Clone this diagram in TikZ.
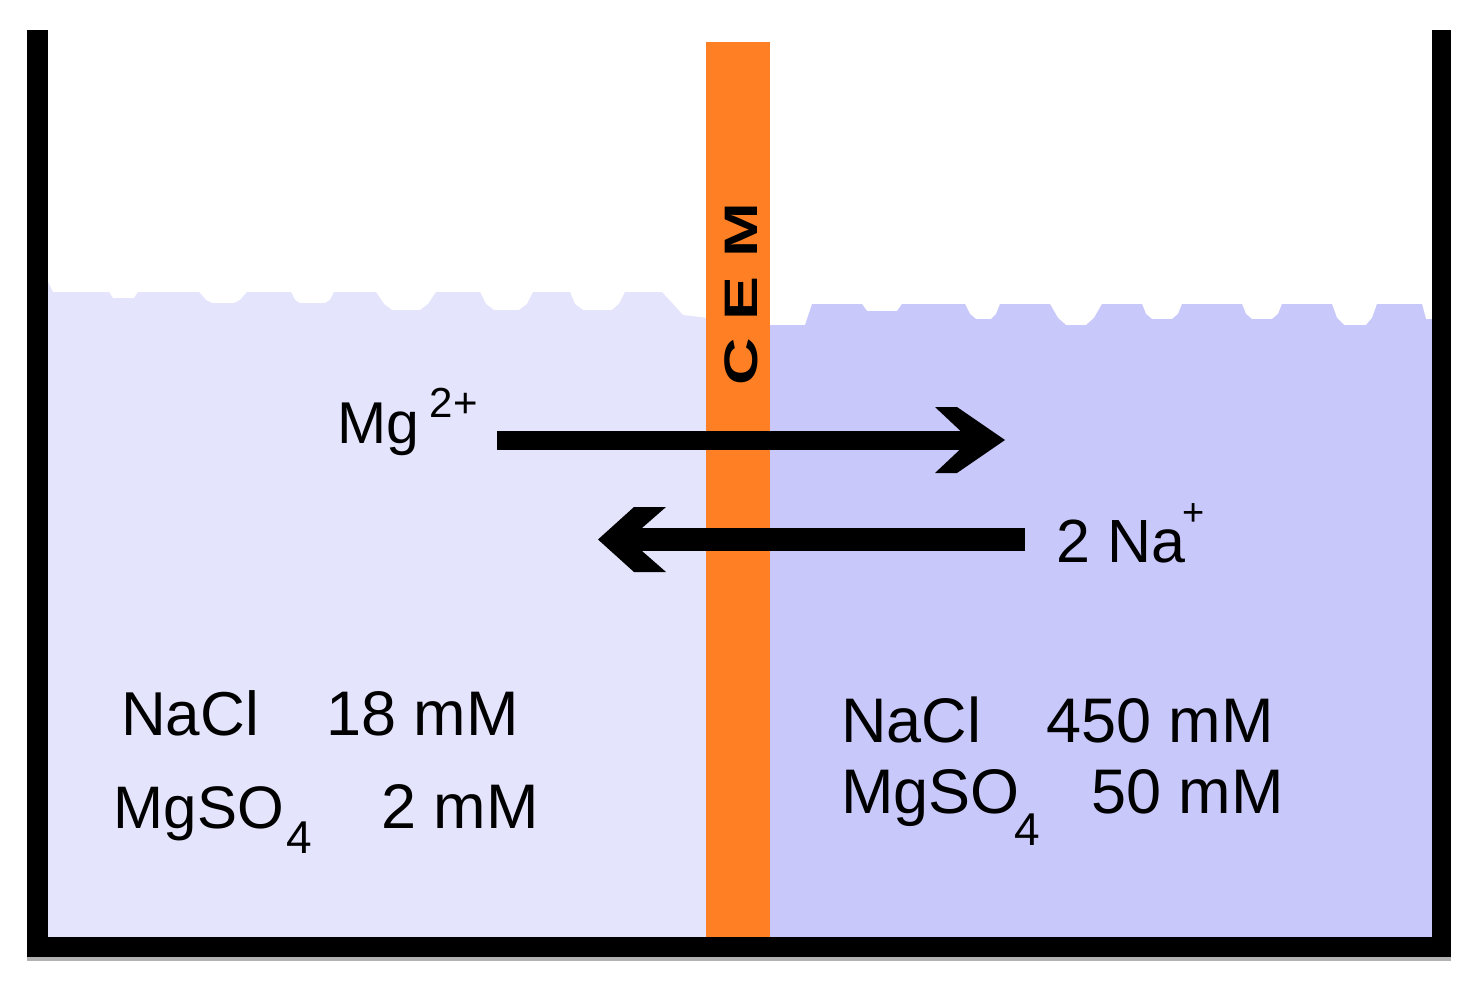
\documentclass[tikz,border=0pt]{standalone}
\usepackage{fontspec}
\setmainfont{Liberation Sans}
\definecolor{leftwater}{RGB}{228,228,252}
\definecolor{rightwater}{RGB}{200,200,250}
\definecolor{membrane}{RGB}{255,128,36}
\newcommand\myfs[1]{\fontsize{#1}{#1}\selectfont}
\begin{document}
\begin{tikzpicture}[x=1pt,y=-1pt,
  txt/.style={anchor=base west, inner sep=0pt, text=black},
  wall/.style={fill=black},
  shaft/.style={draw=black, line width=#1}]
\useasboundingbox (0,0) rectangle (1483,982);
\fill[white] (0,0) rectangle (1483,982);
% water left
\fill[leftwater] (48,282) -- (53,292) -- (109,292) -- (113,298) -- (134,298) -- (138,292) -- (199,292) -- (206,300) -- (212,303) -- (234,303) -- (240,300) -- (247,292) -- (291,292) -- (295,300) -- (300,303) -- (325,303) -- (330,300) -- (334,292) -- (376,292) -- (384,304) -- (392,310) -- (420,310) -- (428,304) -- (436,292) -- (480,292) -- (486,304) -- (494,310) -- (519,310) -- (527,304) -- (533,292) -- (570,292) -- (575,304) -- (583,310) -- (612,310) -- (619,304) -- (625,292) -- (662,292) -- (683,315) -- (708,318) -- (708,945) -- (48,945) -- cycle;
% water right
\fill[rightwater] (768,325) -- (805,325) -- (812,304) -- (862,304) -- (867,311) -- (897,311) -- (902,304) -- (965,304) -- (970,314) -- (976,319) -- (991,319) -- (996,314) -- (1000,304) -- (1050,304) -- (1058,318) -- (1066,325) -- (1086,325) -- (1094,318) -- (1102,304) -- (1142,304) -- (1146,314) -- (1152,319) -- (1172,319) -- (1178,314) -- (1182,304) -- (1242,304) -- (1246,314) -- (1252,319) -- (1272,319) -- (1278,314) -- (1282,304) -- (1332,304) -- (1337,318) -- (1344,325) -- (1366,325) -- (1372,318) -- (1377,304) -- (1422,304) -- (1426,319) -- (1433,319) -- (1433,945) -- (768,945) -- cycle;
% membrane
\fill[membrane] (706,42) rectangle (770,945);
\node[rotate=90, anchor=base, inner sep=0pt] (cem) at (757,294.5) {\myfs{47}\bfseries\scalebox{1.4}[1]{C E M}};
% container
\fill[black!30] (27,957) rectangle (1451,961);
\fill[wall] (27,30) rectangle (48,957);
\fill[wall] (1432,30) rectangle (1451,957);
\fill[wall] (27,937) rectangle (1451,957);
% arrow Mg -> right
\coordinate (a1s) at (497,440);
\coordinate (a1e) at (962,440);
\coordinate (t1) at (1005,440);
\draw[shaft=19pt] (a1s) -- (a1e);
\fill[black] (t1) -- ++(-48,-33) -- ++(-22,0) -- ++(25,23.5) -- ++(0,19) -- ++(-25,23.5) -- ++(22,0) -- cycle;
% arrow Na -> left
\coordinate (a2s) at (1025,539.5);
\coordinate (a2e) at (640,539.5);
\coordinate (t2) at (598,539.5);
\draw[shaft=23pt] (a2s) -- (a2e);
\fill[black] (t2) -- ++(36,-32.5) -- ++(32,0) -- ++(-24,21) -- ++(0,23) -- ++(24,21) -- ++(-32,0) -- cycle;
% ion labels
\node[txt] (mg) at (337.5,443) {\myfs{59}Mg\hspace{10pt}\raisebox{26pt}{\myfs{42}2+}};
\node[txt] (na) at (1056,562) {\myfs{61}2 Na\kern-3pt\raisebox{37pt}{\myfs{38}+}};
% concentrations left
\node[txt] (nacl1) at (121,735) {\myfs{62}NaCl};
\node[txt] (c1) at (326,735) {\myfs{63}18 mM};
\node[txt] (mgso1) at (113.5,828) {\myfs{60}MgSO\kern3pt\raisebox{-25pt}{\myfs{46}4}};
\node[txt] (c2) at (381,828) {\myfs{63}2 mM};
% concentrations right
\node[txt] (nacl2) at (841,742) {\myfs{63}NaCl};
\node[txt] (c3) at (1046,742) {\myfs{63}450 mM};
\node[txt] (mgso2) at (841,813) {\myfs{63}MgSO\kern-5pt\raisebox{-32pt}{\myfs{46}4}};
\node[txt] (c4) at (1091,813) {\myfs{63}50 mM};
\end{tikzpicture}
\end{document}
